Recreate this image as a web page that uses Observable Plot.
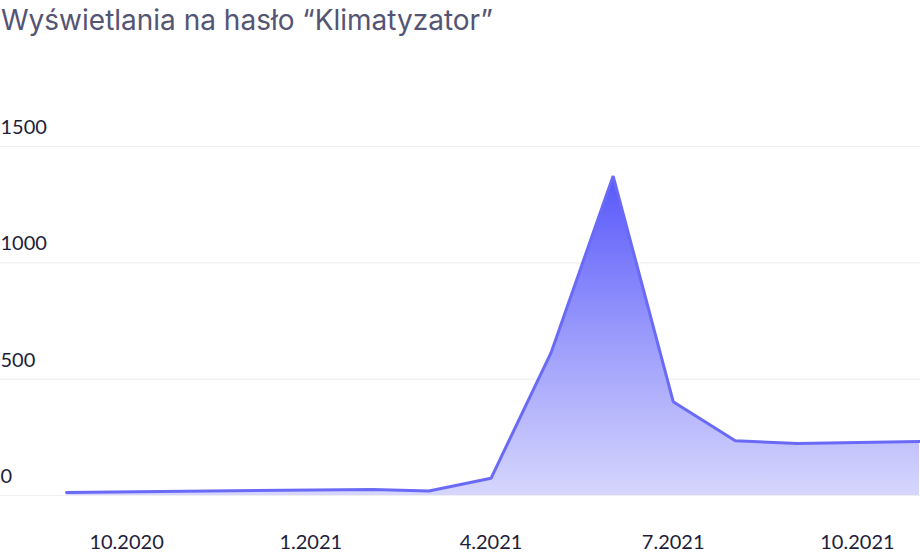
<!DOCTYPE html>
<html>
<head>
<meta charset="utf-8">
<script src="https://cdn.jsdelivr.net/npm/d3@7"></script>
<script src="https://cdn.jsdelivr.net/npm/@observablehq/plot@0.6"></script>
<style>
  html, body { margin: 0; padding: 0; background: #fff; }
  body { width: 920px; height: 558px; overflow: hidden; font-family: Lato, "Noto Sans", sans-serif; }
  #title { height: 50px; box-sizing: border-box; padding: 3px 0 0 1px; font-family: Inter, Lato, sans-serif; font-size: 28px; color: #545474; white-space: nowrap; letter-spacing: 0px; }
  svg { display: block; }
</style>
</head>
<body>
<div id="title">Wyświetlania na hasło “Klimatyzator”</div>
<div id="chart"></div>
<script>
// Data (monthly views)
const months = ["2020-09-01","2021-02-01","2021-03-01","2021-04-01","2021-05-01","2021-06-01","2021-07-01","2021-08-01","2021-09-01","2021-11-01"];
const views  = [13, 26, 19, 74, 614, 1373, 403, 235, 223, 232];
const yTicks = [0, 500, 1000, 1500];
const xTicks = ["2020-10-01","2021-01-01","2021-04-01","2021-07-01","2021-10-01"];

const data = months.map((m, i) => ({date: new Date(m + "T00:00:00"), value: views[i]}));
const xTickDates = xTicks.map(t => new Date(t + "T00:00:00"));
const fmt = d => `${d.getMonth() + 1}.${d.getFullYear()}`;

const chart = Plot.plot({
  width: 920,
  height: 508,
  marginLeft: 66,
  marginRight: 1,
  marginTop: 96,
  marginBottom: 63,
  style: {fontFamily: "Lato, 'Noto Sans', sans-serif", background: "#fff"},
  x: {type: "time", domain: [data[0].date, data[data.length - 1].date], axis: null},
  y: {domain: [0, 1500], axis: null},
  marks: [
    () => {
      const svg = d3.create("svg:defs");
      const g = svg.append("linearGradient").attr("id", "areaGrad")
        .attr("gradientUnits", "userSpaceOnUse")
        .attr("x1", 0).attr("x2", 0).attr("y1", 125).attr("y2", 445);
      g.append("stop").attr("offset", "0%").attr("stop-color", "#5757fb");
      g.append("stop").attr("offset", "50%").attr("stop-color", "#9a9afc");
      g.append("stop").attr("offset", "100%").attr("stop-color", "#d6d6fd");
      return svg.node();
    },
    Plot.ruleY(yTicks, {stroke: "#efefef", strokeWidth: 1.2, insetLeft: -66, insetRight: -1}),
    Plot.areaY(data, {x: "date", y: "value", fill: "url(#areaGrad)"}),
    Plot.lineY(data, {x: "date", y: "value", stroke: "#6a6af6", strokeWidth: 3, strokeLinejoin: "miter"}),
    Plot.text(yTicks, {y: d => d, frameAnchor: "left", dx: -66, dy: -19, textAnchor: "start", text: d => String(d), fontSize: 20, fill: "#1d1d3b"}),
    Plot.text(xTickDates, {x: d => d, frameAnchor: "bottom", dy: 53, text: fmt, fontSize: 20, fill: "#1d1d3b"})
  ]
});
document.getElementById("chart").appendChild(chart);
</script>
</body>
</html>
